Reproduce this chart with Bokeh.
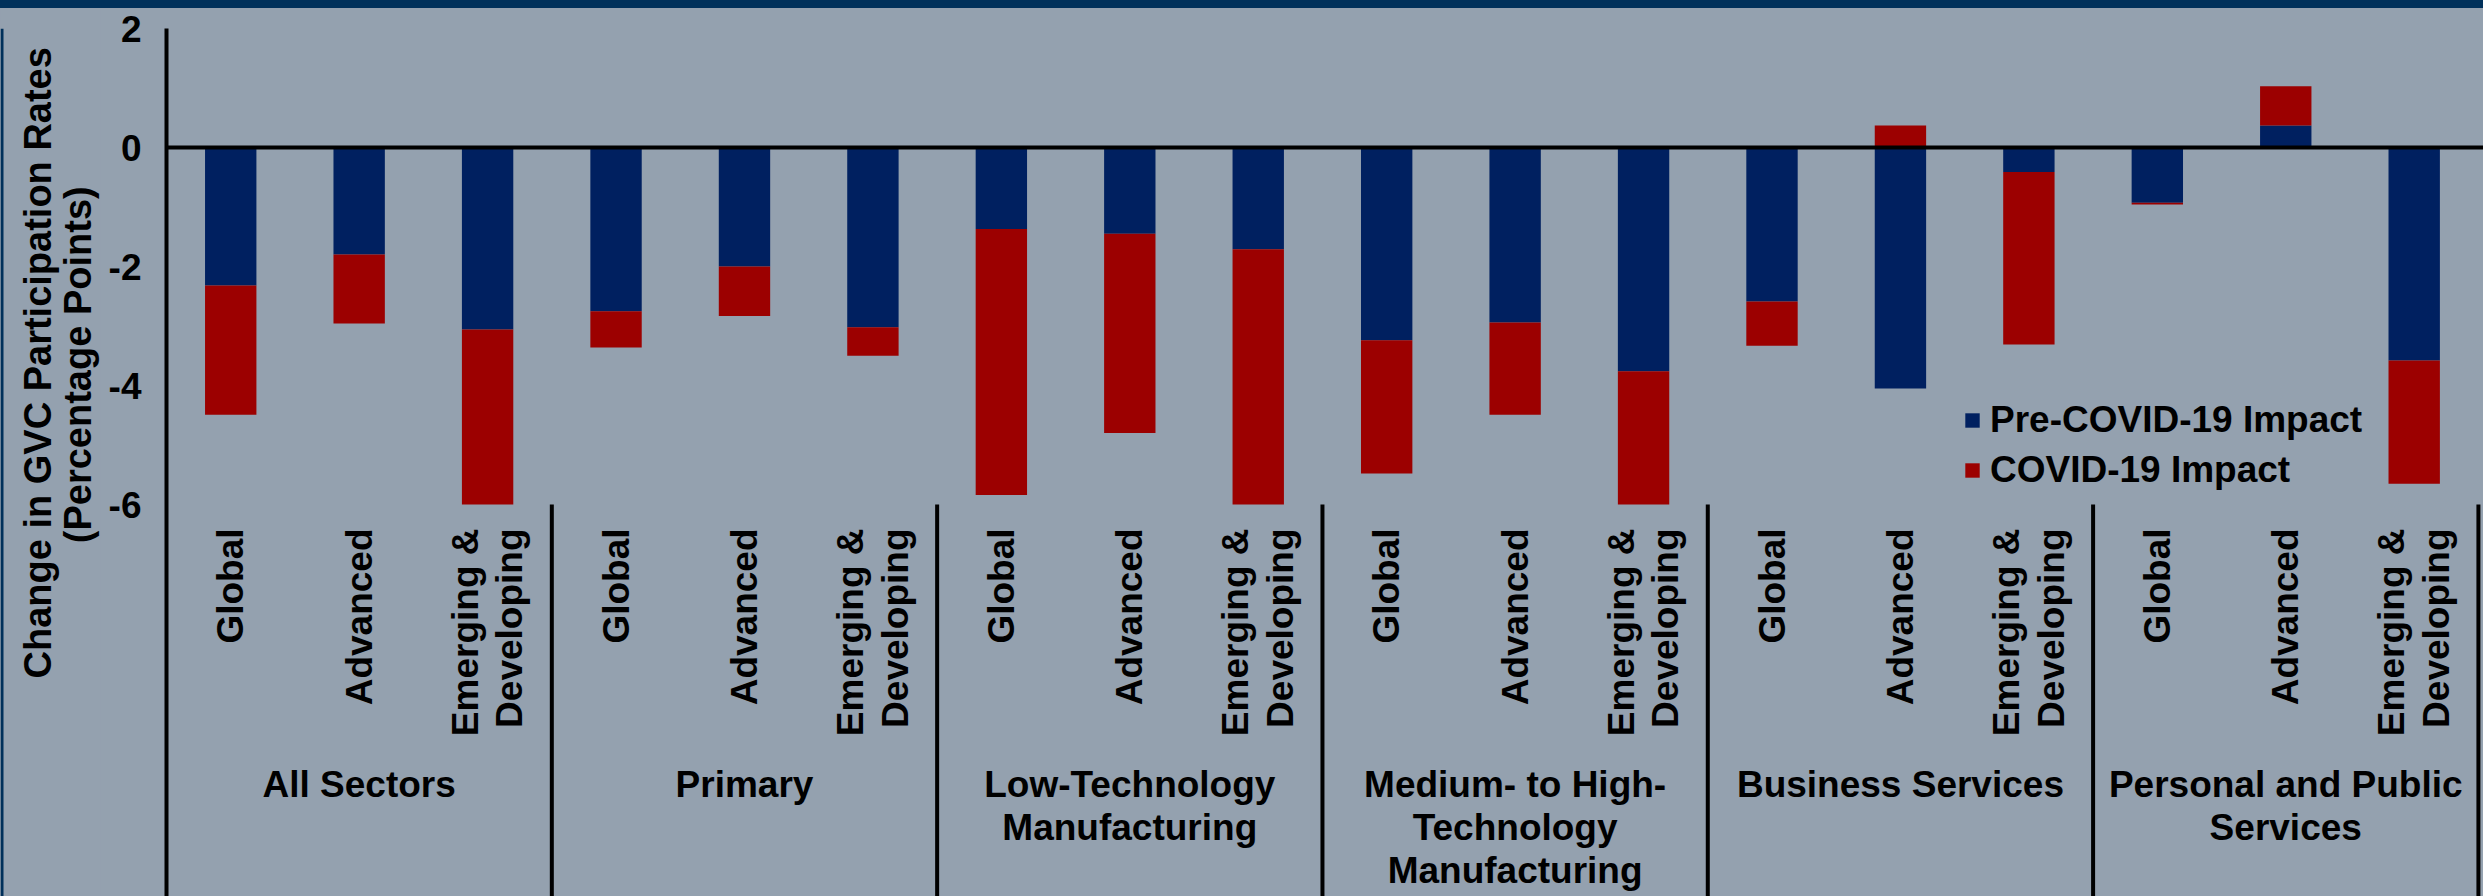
import numpy as np
from bokeh.plotting import figure
from bokeh.layouts import column, row
from bokeh.models import (Range1d, FixedTicker, Span, Legend, LegendItem, Div,
                          ColumnDataSource)
from bokeh.core.properties import value
from bokeh.embed import file_html
from bokeh.resources import INLINE

# ---------------- data ----------------
sectors = ["All Sectors", "Primary", "Low-Technology\nManufacturing",
           "Medium- to High-\nTechnology\nManufacturing", "Business Services",
           "Personal and Public\nServices"]
regions = ["Global", "Advanced", "Emerging &\nDeveloping"]
pre_covid = [-2.32, -1.80, -3.06,
             -2.75, -2.00, -3.02,
             -1.37, -1.45, -1.71,
             -3.24, -2.94, -3.76,
             -2.59, -4.05, -0.41,
             -0.93, 0.37, -3.58]
covid = [-2.17, -1.16, -2.94,
         -0.61, -0.83, -0.48,
         -4.47, -3.35, -4.29,
         -2.24, -1.55, -2.24,
         -0.74, 0.37, -2.90,
         -0.03, 0.66, -2.07]
series_names = ["Pre-COVID-19 Impact", "COVID-19 Impact"]
y_ticks = [2, 0, -2, -4, -6]
y_title = ["Change in GVC Participation Rates", "(Percentage Points)"]

# ---------------- layout / style ----------------
W, H = 2483, 896
BAND = 8                     # dark band at the top
TW = 100                     # width of the strip holding the y-axis title
FRAME_L, FRAME_T = 166, 28   # page coordinates of the plot frame
SLOT = 128.44
UNIT_PX = 59.5
Y_TOP = 2.0
N = len(sectors) * len(regions)
X_END = (W - FRAME_L) / SLOT
Y_BOT = Y_TOP - (H - FRAME_T) / UNIT_PX

NAVY = "#002060"
RED = "#9C0000"
BG = "#94A1AF"
BAND_COLOR = "#00305A"
FONT = "Liberation Sans"
FS = "37px"


def Y(page_y):
    return Y_TOP - (page_y - FRAME_T) / UNIT_PX


# stacking like Excel: negatives stack downward, positives upward
pre = np.array(pre_covid)
cov = np.array(covid)
xs = np.arange(N) + 0.5
pre_bottom = np.zeros(N)
pre_top = pre
same = np.sign(cov) == np.sign(pre)
cov_bottom = np.where(same, pre, 0.0)
cov_top = cov_bottom + cov

# ---------- strip with the y-axis title ----------
t = figure(width=TW, height=H - BAND, x_range=Range1d(0, TW), y_range=Range1d(H - BAND, 0),
           x_axis_location=None, y_axis_location=None, toolbar_location=None,
           output_backend="svg", min_border_left=0, min_border_right=0,
           min_border_top=0, min_border_bottom=0)
t.background_fill_color = BG
t.border_fill_color = BG
t.outline_line_color = None
t.grid.visible = False
t.quad(left=[0], right=[3], top=[0], bottom=[H - BAND], fill_color=BAND_COLOR, line_color=None)
t.text(x=[37, 77], y=[350 - BAND, 352 - BAND], text=y_title, angle=np.pi / 2,
       text_align="center", text_baseline="middle", text_font=value(FONT),
       text_font_size="38px", text_font_style="bold", text_color="black")

# ---------- main chart ----------
p = figure(width=W - TW, height=H - BAND, x_range=Range1d(0, X_END),
           y_range=Range1d(Y_BOT, Y_TOP),
           x_axis_location=None, toolbar_location=None, output_backend="svg",
           min_border_left=FRAME_L - TW, min_border_right=0,
           min_border_top=FRAME_T - BAND, min_border_bottom=0)
p.background_fill_color = BG
p.border_fill_color = BG
p.outline_line_color = None
p.grid.visible = False

r1 = p.vbar(x=xs, bottom=pre_bottom, top=pre_top, width=0.4, fill_color=NAVY, line_color=None)
r2 = p.vbar(x=xs, bottom=cov_bottom, top=cov_top, width=0.4, fill_color=RED, line_color=None)

# y axis
ax = p.yaxis[0]
ax.ticker = FixedTicker(ticks=y_ticks)
ax.major_label_overrides = {v: str(v) for v in y_ticks}
ax.axis_line_width = 4
ax.axis_line_color = "black"
ax.major_tick_line_color = None
ax.minor_tick_line_color = None
ax.major_label_text_font = FONT
ax.major_label_text_font_size = FS
ax.major_label_text_font_style = "bold"
ax.major_label_text_color = "black"
ax.major_label_standoff = 19

# zero line
p.add_layout(Span(location=0, dimension="width", line_color="black", line_width=4))

# group separators below the plot area
n_reg = len(regions)
sep_x = [n_reg * (k + 1) for k in range(len(sectors))]
p.segment(x0=sep_x, x1=sep_x, y0=[y_ticks[-1]] * len(sep_x), y1=[Y_BOT] * len(sep_x),
          line_color="black", line_width=4)

# region labels (rotated)
reg_src = ColumnDataSource(dict(x=xs, y=[Y(528)] * N,
                                text=[regions[i % n_reg] for i in range(N)]))
p.text(x="x", y="y", text="text", source=reg_src, angle=np.pi / 2,
       text_align="right", text_baseline="middle", text_font=value(FONT),
       text_font_size=FS, text_font_style="bold", text_color="black",
       text_line_height=1.09)

# sector labels
sec_src = ColumnDataSource(dict(x=[n_reg * k + n_reg / 2 for k in range(len(sectors))],
                                y=[Y(763)] * len(sectors), text=sectors))
p.text(x="x", y="y", text="text", source=sec_src, text_align="center",
       text_baseline="top", text_font=value(FONT), text_font_size=FS,
       text_font_style="bold", text_color="black", text_line_height=1.06)

legend = Legend(items=[LegendItem(label=series_names[0], renderers=[r1]),
                       LegendItem(label=series_names[1], renderers=[r2])],
                location=(1963 - FRAME_L, H - 491),
                orientation="vertical")
legend.background_fill_alpha = 0
legend.border_line_color = None
legend.padding = 0
legend.margin = 0
legend.spacing = 8
legend.glyph_width = 18
legend.glyph_height = 18
legend.label_standoff = 9
legend.label_text_font = FONT
legend.label_text_font_size = FS
legend.label_text_font_style = "bold"
legend.label_text_color = "black"
p.add_layout(legend)

band = Div(text="", width=W, height=BAND,
           styles={"background-color": BAND_COLOR, "margin": "0", "padding": "0"})
layout = column(band, row(t, p, spacing=0, styles={"background-color": BG}), spacing=0,
                styles={"background-color": BG})

open("out.html", "w").write(file_html(layout, INLINE))
